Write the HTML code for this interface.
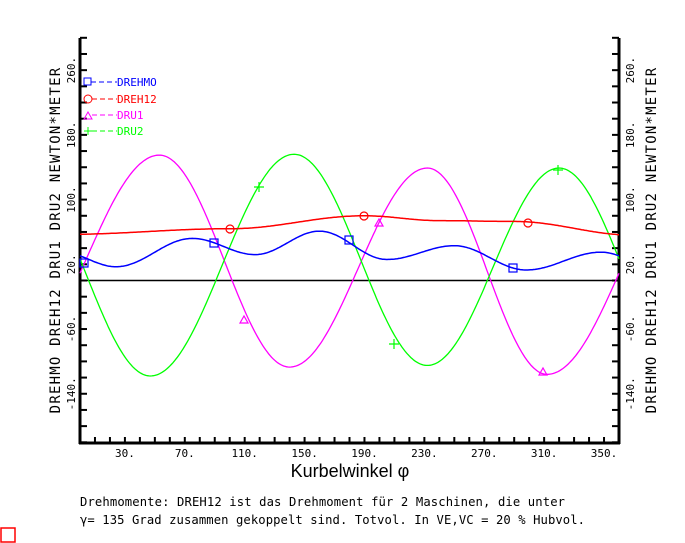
<!DOCTYPE html>
<html><head><meta charset="utf-8"><style>
html,body{margin:0;padding:0;background:#fff;}
svg{display:block;font-family:"DejaVu Sans Mono","Liberation Mono",monospace;}
</style></head><body>
<svg id="s" width="685" height="543" viewBox="0 0 685 543" xmlns="http://www.w3.org/2000/svg">
<rect width="685" height="543" fill="#fff"/>
<g id="ax" stroke="#000" stroke-width="3" fill="none">
<line x1="80" y1="38" x2="80" y2="444"/>
<line x1="619" y1="38" x2="619" y2="444"/>
<line x1="79" y1="443" x2="620" y2="443"/>
</g>
<line x1="80" y1="280.5" x2="619" y2="280.5" stroke="#000" stroke-width="1.5"/>
<g id="ticks" stroke="#000" stroke-width="2"></g>
<g font-size="11" fill="#000" id="lbl"></g>
<text transform="translate(60,240) rotate(-90)" text-anchor="middle" font-size="14" letter-spacing="1.2" fill="#000">DREHMO DREH12 DRU1 DRU2 NEWTON*METER</text>
<text transform="translate(656,240) rotate(-90)" text-anchor="middle" font-size="14" letter-spacing="1.2" fill="#000">DREHMO DREH12 DRU1 DRU2 NEWTON*METER</text>
<text x="350" y="477" text-anchor="middle" font-family="Liberation Sans,sans-serif" font-size="18" fill="#000">Kurbelwinkel φ</text>
<text x="80" y="506" font-size="12.2" fill="#000" textLength="485">Drehmomente: DREH12 ist das Drehmoment für 2 Maschinen, die unter</text>
<text x="80" y="524" font-size="12.2" fill="#000" textLength="505">γ= 135 Grad zusammen gekoppelt sind. Totvol. In VE,VC = 20 % Hubvol.</text>
<rect x="1" y="528" width="14" height="14" fill="none" stroke="#f00" stroke-width="1.5"/>
<g id="curves" fill="none" stroke-width="1.3"></g>
<g id="mk" fill="none" stroke-width="1.2"></g>
<g font-size="11" id="leg">
<rect x="84" y="78" width="7" height="7" fill="none" stroke="#00f"/><line x1="91" y1="82" x2="117" y2="82" stroke="#00f" stroke-dasharray="5,3"/><text x="117" y="86" fill="#00f">DREHMO</text>
<circle cx="88" cy="99" r="4" fill="none" stroke="#f00"/><line x1="92" y1="99" x2="117" y2="99" stroke="#f00" stroke-dasharray="5,3"/><text x="117" y="103" fill="#f00">DREH12</text>
<path d="M84,119 L88,112 L92,119 Z" fill="none" stroke="#f0f"/><line x1="92" y1="115" x2="117" y2="115" stroke="#f0f" stroke-dasharray="5,3"/><text x="117" y="119" fill="#f0f">DRU1</text>
<path d="M84,131 H92 M88,127 V135" stroke="#0f0"/><line x1="92" y1="131" x2="117" y2="131" stroke="#0f0" stroke-dasharray="5,3"/><text x="117" y="135" fill="#0f0">DRU2</text>
</g>
</svg>
<script>
var NS="http://www.w3.org/2000/svg";
function X(d){return 80+d*539/360;}
function Y(v){return 280.5-v*0.809;}
function el(p,t,a,txt){var e=document.createElementNS(NS,t);for(var k in a)e.setAttribute(k,a[k]);if(txt)e.textContent=txt;document.getElementById(p).appendChild(e);return e;}
for(var v=-200;v<=300;v+=20){var y=Y(v);el("ticks","line",{x1:80,y1:y,x2:87,y2:y});el("ticks","line",{x1:612,y1:y,x2:619,y2:y});}
[-140,-60,20,100,180,260].forEach(function(v){var y=Y(v);var t=v+".";
el("lbl","text",{transform:"translate(75,"+y+") rotate(-90)","text-anchor":"middle"},t);
el("lbl","text",{transform:"translate(634,"+y+") rotate(-90)","text-anchor":"middle"},t);});
for(var d=0;d<=360;d+=10){el("ticks","line",{x1:X(d),y1:437,x2:X(d),y2:443});}
for(var d=30;d<=350;d+=40){el("lbl","text",{x:X(d),y:457,"text-anchor":"middle"},d+".");}
function curve(ex){var s="";
for(var d=0;d<=360;d+=1){var i=0;while(ex[i+1][0]<d)i++;var a=ex[i],b=ex[i+1];var t=(d-a[0])/(b[0]-a[0]);
var v=a[1]+(b[1]-a[1])*(1-Math.cos(Math.PI*t))/2;
s+=(d==0?"M":" L")+X(d).toFixed(1)+","+Y(v).toFixed(1);}return s;}
var dru1=[[-48,-116],[53,155],[140,-107],[232,139],[312,-116],[413,155]];
var dru2=[[-40,139],[47,-118],[143,156],[232,-105],[320,139],[407,-118]];
var dm=[[-12,35],[24,17],[75,52],[117,32],[160,61],[205,26],[250,43],[298,13],[348,35],[384,17]];
var d12=[[-10,57],[100,64],[190,80],[240,74],[290,73],[370,56]];
el("curves","path",{d:curve(dru1),stroke:"#f0f"});
el("curves","path",{d:curve(dru2),stroke:"#0f0"});
el("curves","path",{d:curve(d12),stroke:"#f00","stroke-width":1.5});
el("curves","path",{d:curve(dm),stroke:"#00f","stroke-width":1.5});
[[84,263],[214,243],[349,240],[513,268]].forEach(function(p){el("mk","rect",{x:p[0]-4,y:p[1]-4,width:8,height:8,stroke:"#00f"});});
[[230,229],[364,216],[528,223]].forEach(function(p){el("mk","circle",{cx:p[0],cy:p[1],r:4,stroke:"#f00"});});
[[244,320],[379,223],[543,372]].forEach(function(p){el("mk","path",{d:"M"+(p[0]-4)+","+(p[1]+3)+" L"+p[0]+","+(p[1]-4)+" L"+(p[0]+4)+","+(p[1]+3)+" Z",stroke:"#f0f"});});
[[259,187],[394,344],[558,170]].forEach(function(p){el("mk","path",{d:"M"+(p[0]-5)+","+p[1]+" H"+(p[0]+5)+" M"+p[0]+","+(p[1]-5)+" V"+(p[1]+5),stroke:"#0f0"});});
</script>
</body></html>
